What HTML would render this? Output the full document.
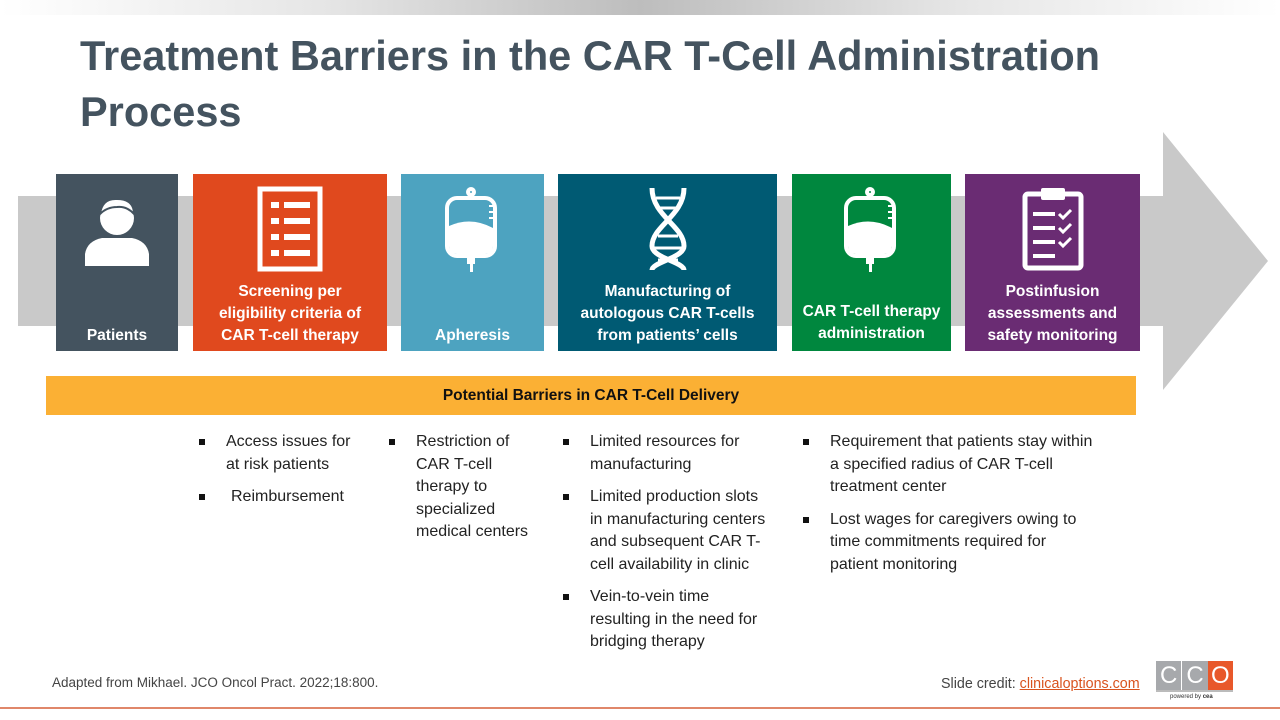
<!DOCTYPE html>
<html><head><meta charset="utf-8"><style>
body{margin:0;width:1280px;height:720px;position:relative;background:#fff;font-family:"Liberation Sans",sans-serif;overflow:hidden}
.a{position:absolute}
.top{left:0;top:0;width:1280px;height:15px;background:linear-gradient(90deg,#fff 0%,#e6e6e6 25%,#bdbdbd 50%,#e6e6e6 75%,#fff 100%)}
h1{position:absolute;left:80px;top:28px;margin:0;font-size:41.5px;line-height:56px;color:#44535f;font-weight:bold}
.box{position:absolute;top:174px;height:177px;color:#fff;font-weight:bold;font-size:15.5px;line-height:22px;text-align:center;display:flex;flex-direction:column;justify-content:flex-end;padding-bottom:4px;box-sizing:border-box}
.box svg{position:absolute;left:50%;top:12px;transform:translateX(-50%)}
ul{position:absolute;margin:0;padding:0;list-style:none;font-size:16px;line-height:22.5px;color:#222}
li{position:relative;padding-left:30px;margin-bottom:10px}
li:before{content:"";position:absolute;left:3px;top:8px;width:6px;height:6px;background:#111}
</style></head><body>
<div class="a top"></div>
<h1>Treatment Barriers in the CAR T-Cell Administration<br>Process</h1>
<svg class="a" style="left:0;top:0" width="1280" height="720"><polygon points="18,196 1163,196 1163,132 1268,261 1163,390 1163,326 18,326" fill="#c9c9c9"/></svg>

<div class="box" style="left:56px;width:122px;background:#44535f">Patients
<svg width="70" height="80" viewBox="0 0 70 80"><circle cx="35" cy="32" r="17" fill="#fff"/><path d="M18 28 Q20 12 35 13 Q52 13 52 28 Q45 20 35 21 Q25 21 18 28Z" fill="#fff" stroke="#44535f" stroke-width="2"/><path d="M3 82 L3 68 Q5 55 20 52 L50 52 Q65 55 67 68 L67 82Z" fill="#fff"/></svg></div>
<div class="box" style="left:193px;width:194px;background:#e0491e">Screening per<br>eligibility criteria of<br>CAR T-cell therapy
<svg width="66" height="86" viewBox="0 0 66 86"><rect x="3" y="3" width="60" height="80" fill="none" stroke="#fff" stroke-width="5"/><g fill="#fff"><rect x="14" y="16" width="8" height="6"/><rect x="27" y="16" width="26" height="6"/><rect x="14" y="32" width="8" height="6"/><rect x="27" y="32" width="26" height="6"/><rect x="14" y="48" width="8" height="6"/><rect x="27" y="48" width="26" height="6"/><rect x="14" y="64" width="8" height="6"/><rect x="27" y="64" width="26" height="6"/></g></svg></div>
<div class="box" style="left:401px;width:143px;background:#4da3c0">Apheresis
<svg width="60" height="90" viewBox="0 0 60 90"><g fill="none" stroke="#fff" stroke-width="4"><circle cx="28" cy="6" r="3"/><rect x="4" y="12" width="48" height="58" rx="10"/></g><path d="M6 40 Q28 30 50 42 L50 60 Q50 68 42 68 L14 68 Q6 68 6 60Z" fill="#fff"/><rect x="24" y="68" width="8" height="10" fill="#fff"/><rect x="27" y="78" width="3" height="8" fill="#fff"/><g stroke="#fff" stroke-width="2"><line x1="46" y1="20" x2="52" y2="20"/><line x1="46" y1="26" x2="52" y2="26"/><line x1="46" y1="32" x2="52" y2="32"/></g></svg></div>
<div class="box" style="left:558px;width:219px;background:#005a73">Manufacturing of<br>autologous CAR T-cells<br>from patients’ cells
<svg width="44" height="86" viewBox="0 0 44 86"><g fill="none" stroke="#fff" stroke-width="5"><path d="M6 2 C6 30 38 40 38 60 C38 72 6 76 6 84"/><path d="M38 2 C38 30 6 40 6 60 C6 72 38 76 38 84"/></g><g stroke="#fff" stroke-width="3"><line x1="10" y1="12" x2="34" y2="12"/><line x1="14" y1="22" x2="30" y2="22"/><line x1="12" y1="50" x2="32" y2="50"/><line x1="8" y1="62" x2="36" y2="62"/><line x1="12" y1="74" x2="32" y2="74"/></g></svg></div>
<div class="box" style="left:792px;width:159px;background:#00873e;padding-bottom:6px">CAR T-cell therapy<br>administration
<svg width="60" height="90" viewBox="0 0 60 90"><g fill="none" stroke="#fff" stroke-width="4"><circle cx="28" cy="6" r="3"/><rect x="4" y="12" width="48" height="58" rx="10"/></g><path d="M6 40 Q28 30 50 42 L50 60 Q50 68 42 68 L14 68 Q6 68 6 60Z" fill="#fff"/><rect x="24" y="68" width="8" height="10" fill="#fff"/><rect x="27" y="78" width="3" height="8" fill="#fff"/><g stroke="#fff" stroke-width="2"><line x1="46" y1="20" x2="52" y2="20"/><line x1="46" y1="26" x2="52" y2="26"/><line x1="46" y1="32" x2="52" y2="32"/></g></svg></div>
<div class="box" style="left:965px;width:175px;background:#6a2c73">Postinfusion<br>assessments and<br>safety monitoring
<svg width="64" height="86" viewBox="0 0 64 86"><rect x="4" y="8" width="56" height="74" rx="3" fill="none" stroke="#fff" stroke-width="5"/><rect x="20" y="2" width="24" height="12" rx="2" fill="#fff"/><g fill="#fff"><rect x="12" y="26" width="22" height="4"/><rect x="12" y="40" width="22" height="4"/><rect x="12" y="54" width="22" height="4"/><rect x="12" y="68" width="22" height="4"/></g><g fill="none" stroke="#fff" stroke-width="3"><path d="M38 28 l4 4 l8 -8"/><path d="M38 42 l4 4 l8 -8"/><path d="M38 56 l4 4 l8 -8"/></g></svg></div>

<div class="a" style="left:46px;top:376px;width:1090px;height:39px;background:#fbb034;font-weight:bold;font-size:15.5px;line-height:40px;text-align:center;color:#111">Potential Barriers in CAR T-Cell Delivery</div>

<ul style="left:196px;top:431px;width:170px"><li>Access issues for at risk patients</li><li style="padding-left:35px">Reimbursement</li></ul>
<ul style="left:386px;top:431px;width:160px"><li>Restriction of CAR T-cell therapy to specialized medical centers</li></ul>
<ul style="left:560px;top:431px;width:212px"><li>Limited resources for manufacturing</li><li>Limited production slots in manufacturing centers and subsequent CAR T-cell availability in clinic</li><li>Vein-to-vein time resulting in the need for bridging therapy</li></ul>
<ul style="left:800px;top:431px;width:295px"><li>Requirement that patients stay within a specified radius of CAR T-cell treatment center</li><li>Lost wages for caregivers owing to time commitments required for patient monitoring</li></ul>

<div class="a" style="left:52px;top:675px;font-size:13.5px;color:#444">Adapted from Mikhael. JCO Oncol Pract. 2022;18:800.</div>
<div class="a" style="left:941px;top:676px;font-size:14.3px;color:#444">Slide credit: <span style="color:#d9531e;text-decoration:underline">clinicaloptions.com</span></div>
<div class="a" style="left:1156px;top:661px;width:77px;height:29px;display:flex;font-size:24px;color:#fff;text-align:center;line-height:29px">
<div style="flex:1;background:#a7a9ac">C</div><div style="flex:1;background:#a7a9ac;border-left:1px solid #fff">C</div><div style="flex:1;background:#e8582a">O</div></div>
<div class="a" style="left:1156px;top:690px;width:77px;height:2px;background:#bbb"></div>
<div class="a" style="left:1170px;top:694px;font-size:6px;color:#333">powered by <b>cea</b></div>
<div class="a" style="left:0;top:707px;width:1280px;height:2px;background:#e0876a"></div>
</body></html>
